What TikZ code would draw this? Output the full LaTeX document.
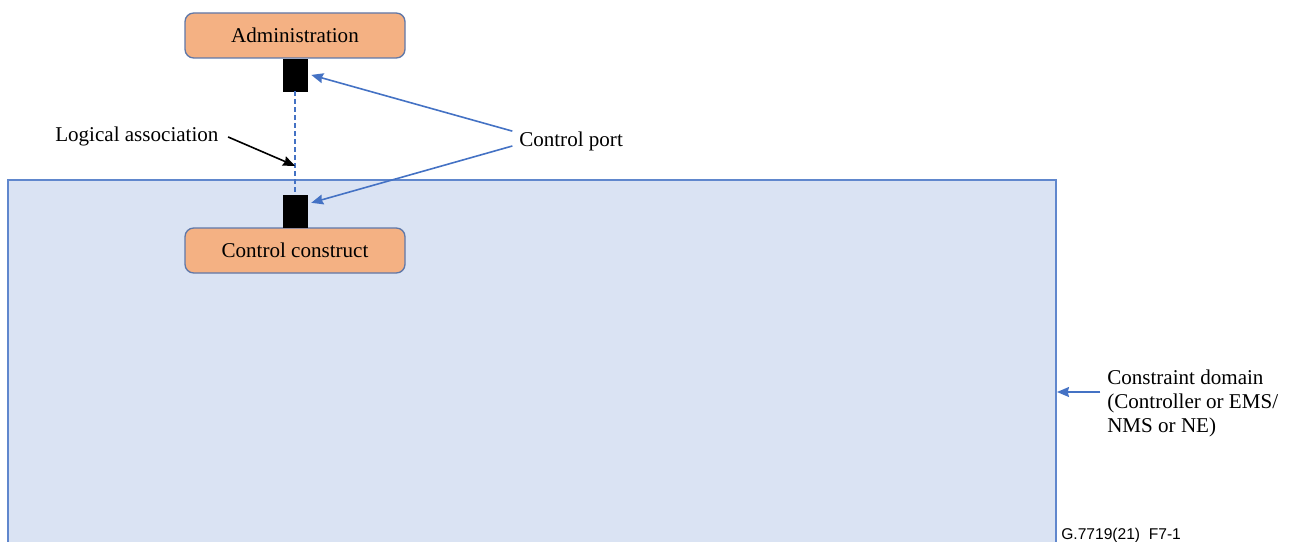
\documentclass[tikz,border=0pt]{standalone}
\usepackage{fontspec}
\setmainfont{Liberation Serif}
\newfontfamily\figfont{Liberation Sans}
\usetikzlibrary{arrows.meta,calc}
\definecolor{domainfill}{HTML}{DAE3F3}
\definecolor{domainline}{HTML}{4472C4}
\definecolor{boxfill}{HTML}{F4B183}
\definecolor{boxline}{RGB}{96,120,168}

\begin{document}
\begin{tikzpicture}[x=0.75pt,y=-0.75pt,
		box/.style={draw=boxline,line width=1pt,fill=boxfill,rounded corners=6.5pt,
			minimum width=165pt,minimum height=33.75pt,font=\fontsize{15.8}{18}\selectfont},
		port/.style={fill=black,draw=black,minimum width=18pt,minimum height=24pt,inner sep=0},
		txt/.style={inner sep=0,font=\fontsize{15.8}{18}\selectfont},
		ptr/.style={draw=domainline,line width=1.2pt,-{Stealth[length=9pt,width=7.5pt,inset=1pt]}}]
		\useasboundingbox (0,0) rectangle (1292,542);
		% Domain
		\draw [domainline!85,line width=0.8pt,fill=domainfill] (8,180) rectangle (1056,550);
		% Constructs and ports
		\node [box] (admin) at (295,35.5) {Administration};
		\node [port,anchor=north] (adminport) at (admin.south) {};
		\node [box] (ctrl) at (295,250.5) {Control construct};
		\node [port,anchor=south] (ctrlport) at (ctrl.north) {};
		\draw [domainline,line width=2pt,dash pattern=on 3.5pt off 2.5pt] (adminport.south) -- (ctrlport.north);
		\coordinate (assoc) at ($(adminport.south)!0.72!(ctrlport.north)$);
		% Labels
		\node [txt,anchor=base west] (logic) at (55,142) {Logical association};
		\node [txt,anchor=base west] (cport) at (519,146) {Control port};
		\node [txt,anchor=north west,align=left] (cdom) at (1107,370) {Constraint domain\\(Controller or EMS/\\NMS or NE)};
		\node [inner sep=0,anchor=base west,font=\figfont\fontsize{11.7}{13}\selectfont] (fig) at (1061,539) {G.7719(21)\ \ F7-1};
		% Pointers
		\draw [black,line width=1.2pt,-{Stealth[length=9pt,width=7.5pt,inset=1pt]}] ([xshift=7pt]logic.east) -- (assoc);
		\draw [ptr] ([xshift=-5pt]cport.north west) -- ([xshift=3pt]adminport.east);
		\draw [ptr] ([xshift=-5pt]cport.base west) -- ($(ctrlport.north east)+(4,8)$);
		\coordinate (edge) at (1057,392);
		\draw [ptr] ([xshift=-5pt]cdom.west |- edge) -- (edge);
	\end{tikzpicture}
\end{document}
